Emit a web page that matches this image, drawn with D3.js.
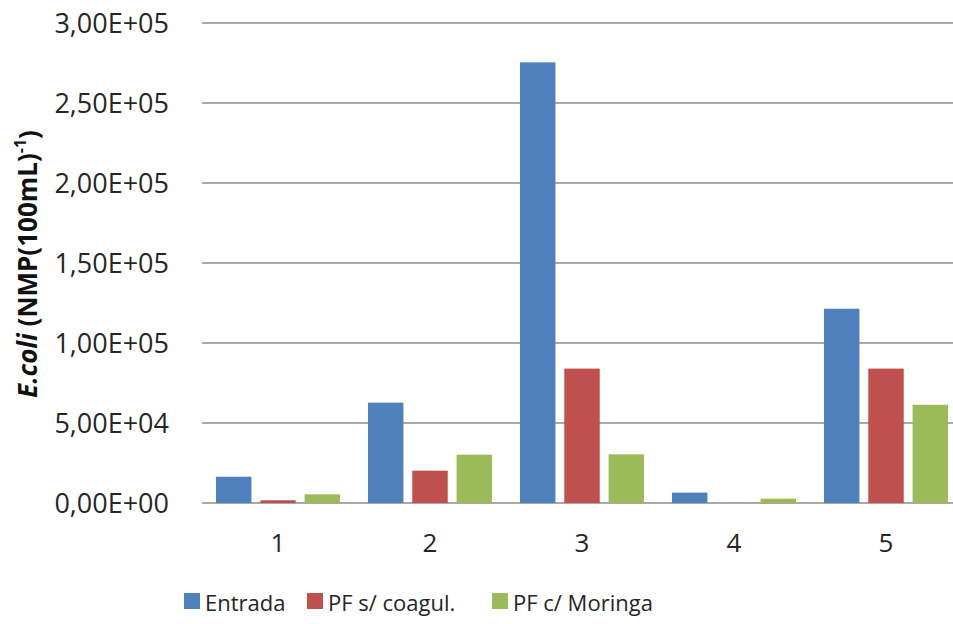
<!DOCTYPE html>
<html>
<head>
<meta charset="utf-8">
<script src="https://cdn.jsdelivr.net/npm/d3@7"></script>
<style>
  body { margin: 0; background: #fff; }
  svg { display: block; font-family: "Open Sans", Lato, sans-serif; }
</style>
</head>
<body>
<svg width="953" height="624"></svg>
<script>
// E. coli counts per sampling campaign
const categories = ["1", "2", "3", "4", "5"];
const seriesNames = ["Entrada", "PF s/ coagul.", "PF c/ Moringa"];
const entrada = [16400, 62700, 275400, 6500, 121400];
const pfSemCoagul = [1700, 20200, 84000, 0, 84000];
const pfMoringa = [5400, 30200, 30400, 2700, 61400];
const yTicks = [0, 50000, 100000, 150000, 200000, 250000, 300000];
const colors = ["#4F81BD", "#C0504D", "#9BBB59"];

const seriesValues = [entrada, pfSemCoagul, pfMoringa];
const data = categories.map((c, i) => ({
  cat: c,
  values: seriesNames.map((s, j) => ({ key: s, value: seriesValues[j][i] }))
}));

const svg = d3.select("svg");
const plot = { left: 202, right: 962, top: 23, bottom: 503 };

const x0 = d3.scaleBand()
  .domain(categories)
  .range([plot.left, plot.right])
  .padding(0);

const bw = x0.bandwidth();
const x1 = d3.scaleBand()
  .domain(seriesNames)
  .range([bw * 0.092, bw * 0.908])
  .paddingInner(0.2);

const y = d3.scaleLinear()
  .domain([0, 300000])
  .range([plot.bottom, plot.top]);

const color = d3.scaleOrdinal().domain(seriesNames).range(colors);

// scientific format with comma decimal, e.g. 2,50E+05
const fmt = v => {
  const [m, e] = v.toExponential(2).split("e");
  const exp = +e;
  return m.replace(".", ",") + "E" + (exp < 0 ? "-" : "+") + String(Math.abs(exp)).padStart(2, "0");
};

// gridlines
svg.append("g")
  .selectAll("line")
  .data(yTicks)
  .join("line")
  .attr("x1", plot.left)
  .attr("x2", 953)
  .attr("y1", d => y(d))
  .attr("y2", d => y(d))
  .attr("stroke", "#8c8c8c")
  .attr("stroke-width", 1.6);

// y tick labels
svg.append("g")
  .selectAll("text")
  .data(yTicks)
  .join("text")
  .attr("x", 169)
  .attr("y", d => y(d))
  .attr("dy", "0.36em")
  .attr("text-anchor", "end")
  .attr("font-size", 27)
  .attr("fill", "#262626")
  .text(fmt);

// bars
const group = svg.append("g")
  .selectAll("g")
  .data(data)
  .join("g")
  .attr("transform", d => `translate(${x0(d.cat)},0)`);

group.selectAll("rect")
  .data(d => d.values)
  .join("rect")
  .attr("x", d => x1(d.key))
  .attr("width", x1.bandwidth())
  .attr("y", d => y(d.value))
  .attr("height", d => y(0) - y(d.value))
  .attr("fill", d => color(d.key));

// x category labels
svg.append("g")
  .selectAll("text")
  .data(categories)
  .join("text")
  .attr("x", d => x0(d) + bw / 2)
  .attr("y", 543)
  .attr("dy", "0.36em")
  .attr("text-anchor", "middle")
  .attr("font-size", 26)
  .attr("fill", "#262626")
  .text(d => d);

// y axis title
const title = svg.append("text")
  .attr("transform", "translate(37,264) rotate(-90)")
  .attr("text-anchor", "middle")
  .attr("font-size", 26)
  .attr("font-weight", "bold")
  .attr("fill", "#111");
title.append("tspan").attr("font-style", "italic").text("E.coli");
title.append("tspan").text(" (NMP(100mL)");
title.append("tspan").attr("font-size", 16).attr("dy", "-0.7em").text("-1");
title.append("tspan").attr("dy", "0.45em").text(")");

// legend
const legendX = [184, 307, 492];
const legend = svg.append("g")
  .selectAll("g")
  .data(seriesNames)
  .join("g")
  .attr("transform", (d, i) => `translate(${legendX[i]},601)`);

legend.append("rect")
  .attr("x", 0)
  .attr("y", -8)
  .attr("width", 16)
  .attr("height", 16)
  .attr("fill", d => color(d));

legend.append("text")
  .attr("x", 21)
  .attr("y", 2)
  .attr("dy", "0.36em")
  .attr("font-size", 22)
  .attr("fill", "#262626")
  .text(d => d);
</script>
</body>
</html>
